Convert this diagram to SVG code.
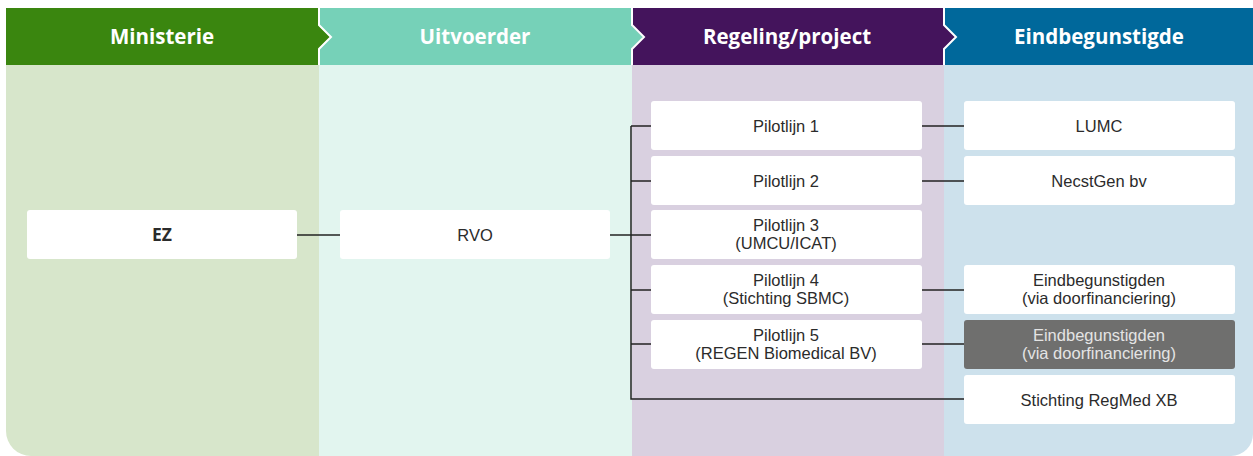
<svg xmlns="http://www.w3.org/2000/svg" width="1253" height="456" viewBox="0 0 1253 456">
<style>
.hd{font-family:"Open Sans","Liberation Sans",sans-serif;font-weight:bold;font-size:20.5px;fill:#ffffff;text-anchor:middle}
.bx{fill:#ffffff}
.gx{fill:#6f6f6e}
.t{font-family:"Liberation Sans",Arial,sans-serif;font-size:16.5px;fill:#2b2b2b;text-anchor:middle}
.tg{fill:#e4e4e4}
.b{font-family:"Open Sans","Liberation Sans",sans-serif;font-weight:bold;font-size:17.5px}
.ln{stroke:#222;stroke-width:1.5;fill:none}
.chev{stroke:#ffffff;stroke-width:2;fill:none}
</style>
<g id="background">
<path d="M6 65 H319 V456 H31 A25 25 0 0 1 6 431 Z" fill="#d7e6cb"/>
<rect x="319" y="65" width="313" height="391" fill="#e2f5ef"/>
<rect x="632" y="65" width="312" height="391" fill="#d9d0e0"/>
<path d="M944 65 H1253 V434 A22 22 0 0 1 1231 456 H944 Z" fill="#cde1ec"/>
</g>
<g id="headers">
<rect x="6" y="8" width="313" height="57" fill="#3a860f"/>
<rect x="319" y="8" width="313" height="57" fill="#76d1b8"/>
<rect x="632" y="8" width="312" height="57" fill="#44145c"/>
<rect x="944" y="8" width="309" height="57" fill="#00689b"/>
<path d="M318 25 L330 37 L318 49 Z" fill="#3a860f"/>
<path d="M631 25 L643 37 L631 49 Z" fill="#76d1b8"/>
<path d="M943 25 L955 37 L943 49 Z" fill="#44145c"/>
<path class="chev" d="M319 8 V25 L331 37 L319 49 V65"/>
<path class="chev" d="M632 8 V25 L644 37 L632 49 V65"/>
<path class="chev" d="M944 8 V25 L956 37 L944 49 V65"/>
<text class="hd" x="162" y="44">Ministerie</text>
<text class="hd" x="475" y="44">Uitvoerder</text>
<text class="hd" x="787" y="44">Regeling/project</text>
<text class="hd" x="1099" y="44">Eindbegunstigde</text>
</g>
<g id="connectors">
<path class="ln" d="M297 235 H340"/>
<path class="ln" d="M610 235 H651"/>
<path class="ln" d="M631 126 V399 H964"/>
<path class="ln" d="M631 126 H651"/>
<path class="ln" d="M631 181 H651"/>
<path class="ln" d="M631 290 H651"/>
<path class="ln" d="M631 344 H651"/>
<path class="ln" d="M921 126 H964"/>
<path class="ln" d="M921 181 H964"/>
<path class="ln" d="M921 290 H964"/>
<path class="ln" d="M921 344 H964"/>
</g>
<g id="node-ez"><rect class="bx" x="27" y="210" width="270" height="49" rx="3"/><text class="t b" x="162" y="241">EZ</text></g>
<g id="node-rvo"><rect class="bx" x="340" y="210" width="270" height="49" rx="3"/><text class="t" x="475" y="241">RVO</text></g>
<g id="node-p1"><rect class="bx" x="651" y="101" width="271" height="49" rx="3"/><text class="t" x="786" y="131.5">Pilotlijn 1</text></g>
<g id="node-p2"><rect class="bx" x="651" y="156" width="271" height="49" rx="3"/><text class="t" x="786" y="186.5">Pilotlijn 2</text></g>
<g id="node-p3"><rect class="bx" x="651" y="210" width="271" height="49" rx="3"/><text class="t" x="786" y="230.5">Pilotlijn 3</text><text class="t" x="786" y="249.2">(UMCU/ICAT)</text></g>
<g id="node-p4"><rect class="bx" x="651" y="265" width="271" height="49" rx="3"/><text class="t" x="786" y="285.5">Pilotlijn 4</text><text class="t" x="786" y="304.2">(Stichting SBMC)</text></g>
<g id="node-p5"><rect class="bx" x="651" y="320" width="271" height="49" rx="3"/><text class="t" x="786" y="340.5">Pilotlijn 5</text><text class="t" x="786" y="359.2">(REGEN Biomedical BV)</text></g>
<g id="node-lumc"><rect class="bx" x="964" y="101" width="271" height="49" rx="3"/><text class="t" x="1099" y="131.5">LUMC</text></g>
<g id="node-necstgen"><rect class="bx" x="964" y="156" width="271" height="49" rx="3"/><text class="t" x="1099" y="186.5">NecstGen bv</text></g>
<g id="node-eind1"><rect class="bx" x="964" y="265" width="271" height="49" rx="3"/><text class="t" x="1099" y="285.5">Eindbegunstigden</text><text class="t" x="1099" y="304.2">(via doorfinanciering)</text></g>
<g id="node-eind2"><rect class="gx" x="964" y="320" width="271" height="49" rx="3"/><text class="t tg" x="1099" y="340.5">Eindbegunstigden</text><text class="t tg" x="1099" y="359.2">(via doorfinanciering)</text></g>
<g id="node-regmed"><rect class="bx" x="964" y="375" width="271" height="49" rx="3"/><text class="t" x="1099" y="405.5">Stichting RegMed XB</text></g>
</svg>
